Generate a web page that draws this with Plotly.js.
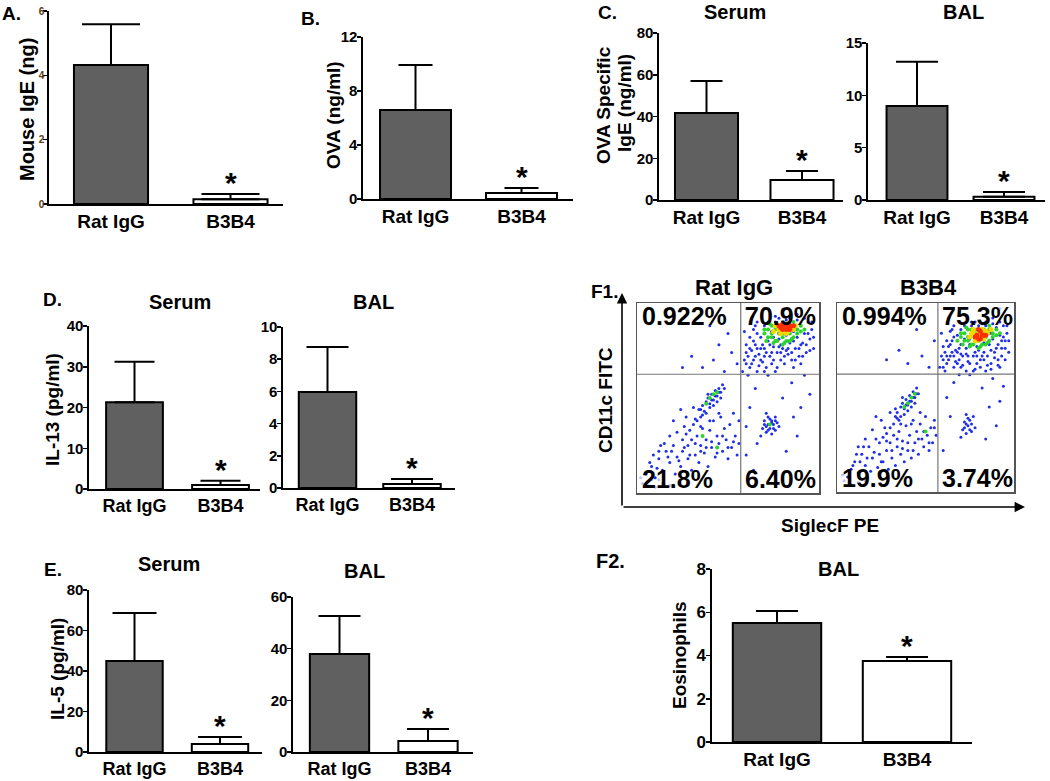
<!DOCTYPE html>
<html><head><meta charset="utf-8">
<script src="https://cdn.plot.ly/plotly-3.0.1.min.js"></script>
<style>html,body{margin:0;padding:0;background:#fff;} #chart{width:1050px;height:781px;}</style>
</head><body><div id="chart"></div>
<script>
// ---------------- DATA ----------------
const categories = ['Rat IgG', 'B3B4'];
const barColors = ['#606060', '#ffffff'];

const mouseIgE = [4.32, 0.15];      const mouseIgEErr = [1.27, 0.16];
const ovaConc = [6.59, 0.44];       const ovaConcErr = [3.34, 0.37];
const ovaIgESerum = [41.7, 9.6];    const ovaIgESerumErr = [15.3, 4.3];
const ovaIgEBAL = [8.98, 0.30];     const ovaIgEBALErr = [4.22, 0.46];
const il13Serum = [21.3, 1.0];      const il13SerumErr = [9.9, 1.0];
const il13BAL = [5.96, 0.25];       const il13BALErr = [2.80, 0.31];
const il5Serum = [44.9, 3.9];       const il5SerumErr = [23.7, 3.5];
const il5BAL = [37.9, 4.3];         const il5BALErr = [14.7, 4.6];
const eosBAL = [5.50, 3.75];        const eosBALErr = [0.56, 0.18];

const ticksA = [0, 2, 4, 6];
const ticksB = [0, 4, 8, 12];
const ticksCSerum = [0, 20, 40, 60, 80];
const ticksCBAL = [0, 5, 10, 15];
const ticksDSerum = [0, 10, 20, 30, 40];
const ticksDBAL = [0, 2, 4, 6, 8, 10];
const ticksESerum = [0, 20, 40, 60, 80];
const ticksEBAL = [0, 20, 40, 60];
const ticksF2 = [0, 2, 4, 6, 8];

// flow cytometry quadrant gates [x, y] and quadrant percentages (UL, UR, LL, LR)
const ratIgGGate = [57, 62.5];
const b3b4Gate = [57, 62.4];
const ratIgGPct = ['0.922%', '70.9%', '21.8%', '6.40%'];
const b3b4Pct = ['0.994%', '75.3%', '19.9%', '3.74%'];

// Rat IgG dot plot events (SiglecF PE, CD11c FITC), by density colour
const ratBlue = [[58,64],[60,68],[61,72],[62,66],[63,75],[64,70],[65,78],[66,64],[67,73],[68,82],[69,69],[70,76],[70,88],[71,66],[72,80],[73,72],[74,85],[74,68],[75,77],[76,90],[77,74],[78,81],[79,70],[80,86],[80,76],[81,68],[82,83],[83,73],[84,89],[84,79],[85,70],[86,85],[87,76],[88,82],[89,72],[90,88],[91,79],[92,84],[93,74],[94,90],[95,81],[62,82],[64,86],[66,90],[68,76],[72,62],[76,64],[60,78],[59,85],[86,66],[90,68],[96,86],[97,76],[78,92],[82,91],[88,91],[66,84],[70,72],[75,82],[79,78],[83,80],[87,86],
 [59,70],[61,62],[63,68],[65,72],[67,67],[69,78],[71,74],[73,78],[75,70],[77,66],[79,74],[81,72],[83,76],[85,74],[87,70],[89,76],[91,72],[93,78],[95,75],[97,82],[72,90],[76,93],[80,90],[84,92],[88,94],[92,92],[64,80],[66,76],[68,70],[70,64],[62,76],[60,74],[74,74],[78,77],[82,75],[86,80],[90,78],[94,84],[96,90],[65,88],
 [36,66],[42,70],[48,64],[52,74],[45,78],[55,68],[30,72],[50,84],[25,66],[40,88],
 [36,46],[38,48],[39,50],[40,47],[41,52],[42,49],[43,54],[44,51],[45,55],[46,53],[47,57],[48,55],[37,43],[35,40],[34,44],[33,38],[31,36],[29,33],[27,31],[25,28],
 [39,52],[41,49],[43,51],[45,53],[40,45],[42,46],[44,48],[46,50],[38,42],[36,41],[35,44],[32,39],
 [5,10],[8,14],[10,8],[12,18],[14,12],[16,22],[18,16],[20,25],[21,10],[22,19],[24,14],[25,22],[26,35],[28,18],[28,25],[30,12],[30,28],[32,20],[33,30],[34,16],[35,25],[36,34],[37,21],[38,28],[39,14],[40,33],[41,24],[42,38],[43,19],[44,30],[45,26],[46,40],[47,22],[48,34],[49,28],[50,18],[51,36],[52,24],[53,42],[54,30],[55,20],[56,38],[18,30],[15,26],[22,32],[12,22],[9,20],[27,40],[31,45],[24,44],[20,38],
 [7,16],[11,13],[13,25],[17,19],[19,22],[23,17],[26,24],[29,20],[32,26],[35,22],[38,24],[41,27],[44,21],[47,30],[50,24],[53,27],[56,26],[40,38],[35,35],[45,42],
 [69,34],[70,38],[71,32],[72,36],[72,40],[73,34],[74,38],[74,31],[75,36],[76,40],[76,33],[77,37],[71,42],[68,30],[78,35],[70,36],[71,35],[73,39],[75,34],[72,33],[74,37],[76,38],
 [60,20],[62,45],[65,55],[80,50],[85,58],[90,45],[95,52],[64,12],[82,22],[88,30],[60,35],[66,26],[92,62],[86,40]];
const ratFaint = [[3,5],[6,4],[10,3],[14,5],[18,4],[8,7],[60,97],[70,97],[80,97],[90,97],[2,8],[12,7]];
const ratGreen = [[70,84],[72,86],[74,82],[76,86],[78,84],[80,82],[82,86],[84,84],[86,88],[88,86],[75,79],[79,88],[83,88],[73,89],[85,81],[77,80],[81,79],[90,85],[71,80],
 [72,82],[74,84],[76,80],[78,86],[80,84],[82,80],[84,80],[86,82],[88,84],[90,88],[76,88],[74,88],[70,86],[86,90],[92,86],[80,78],
 [40,50],[42,52],[44,53],[38,47],[44,24],[36,30],[73,36]];
const ratYellow = [[76,88],[78,86],[80,88],[82,84],[84,87],[86,86],[79,84],[75,85],[77,88],[79,86],[81,85],[83,85],[85,87],[87,88],[83,89]];
const ratRed = [[78,88],[80,86],[82,88],[84,86],[81,87],[79,87],[82,86],[84,88],[80,89],[86,88]];

// B3B4 dot plot events
const b3Blue = [[58,66],[60,70],[61,74],[62,68],[63,77],[64,72],[65,80],[66,66],[67,75],[68,83],[69,70],[70,78],[70,86],[71,67],[72,81],[73,73],[74,86],[74,69],[75,78],[76,88],[77,72],[78,82],[79,68],[80,86],[80,75],[81,70],[82,84],[83,74],[84,88],[84,78],[85,67],[86,84],[87,75],[88,81],[89,71],[90,87],[91,78],[92,83],[93,72],[94,88],[95,80],[62,80],[64,85],[66,88],[68,74],[73,64],[78,65],[60,77],[59,84],[87,65],[91,67],[96,84],[97,74],[78,90],[82,89],[88,89],[66,82],[70,73],[75,81],[79,77],[83,79],[87,84],[93,80],[95,70],
 [59,72],[61,64],[63,70],[65,74],[67,69],[69,76],[71,72],[73,76],[75,68],[77,64],[79,72],[81,66],[83,70],[85,72],[87,68],[89,74],[91,70],[93,76],[95,76],[97,80],[72,88],[76,90],[80,88],[84,90],[88,92],[92,90],[64,78],[66,72],[68,68],[70,66],[62,72],[60,66],[74,72],[78,74],[82,72],[86,78],[90,76],[94,82],[96,88],[65,86],[69,62],[75,62],[84,64],[92,66],
 [40,68],[48,72],[52,66],[35,75],[55,80],[28,70],[45,86],
 [34,42],[36,45],[37,47],[38,44],[39,49],[40,46],[41,51],[42,48],[43,53],[44,50],[45,55],[46,52],[35,38],[33,40],[32,36],[30,34],[28,31],[26,29],[24,26],
 [37,50],[39,46],[41,48],[43,50],[45,52],[38,41],[40,43],[42,45],[44,47],[36,40],[34,39],[33,44],
 [8,12],[10,16],[12,10],[14,20],[16,14],[18,24],[19,11],[20,18],[22,28],[23,13],[24,20],[26,16],[27,34],[28,22],[29,12],[30,26],[31,18],[32,30],[33,14],[34,24],[35,32],[36,20],[37,27],[38,16],[39,35],[40,22],[41,30],[42,18],[43,38],[44,26],[45,32],[46,20],[47,36],[48,28],[49,24],[50,40],[51,30],[52,22],[53,34],[54,26],[55,38],[56,30],[16,28],[20,33],[12,24],[25,38],[30,42],[22,40],[6,8],
 [9,14],[13,16],[15,24],[17,18],[21,21],[25,16],[28,27],[31,22],[34,28],[37,23],[40,26],[43,22],[46,28],[49,32],[52,26],[55,34],[42,36],[36,36],[47,42],[11,20],
 [71,33],[72,37],[73,31],[74,35],[74,39],[75,33],[76,36],[77,40],[78,34],[73,41],[70,29],[72,34],[75,38],[73,36],[76,32],
 [62,50],[66,58],[82,55],[88,60],[92,48],[60,22],[84,28],[90,35],[64,40],[94,56],[86,45]];
const b3Faint = [[4,6],[8,4],[12,5],[16,6],[20,4],[62,97],[72,97],[82,97],[92,97],[3,9]];
const b3Green = [[70,82],[72,84],[74,80],[76,84],[78,82],[80,80],[82,84],[84,82],[86,86],[88,84],[75,77],[79,86],[83,86],[73,87],[85,79],[77,78],[81,77],[90,83],[71,78],
 [72,80],[74,82],[76,78],[78,84],[80,82],[82,78],[84,78],[86,80],[88,82],[90,86],[76,86],[74,86],[70,84],[86,88],[92,84],[80,76],[68,80],
 [40,47],[42,50],[44,52],[38,45],[50,32]];
const b3Yellow = [[76,84],[78,80],[80,84],[82,82],[84,85],[79,82],[77,86],[75,82],[77,84],[79,80],[81,83],[83,81],[85,84],[87,86],[82,86]];
const b3Red = [[79,83],[81,81],[83,83],[80,86],[78,82],[80,81],[82,83],[84,83],[81,85]];

// ---------------- LAYOUT ----------------
const W = 1050, H = 781;
const SANS = '"Liberation Sans", Arial, Helvetica, sans-serif';
const boldTick = {family: SANS, size: 15, color: '#000', weight: 'bold'};

const panels = [
  {vals: mouseIgE, errs: mouseIgEErr, ticks: ticksA, L: 49, R: 283, c1: 111, c2: 230.5, y0: 204, yt: 11, bw: 0.62, cap: 29, tf: {family: SANS, size: 10, color: '#5a3c12', weight: 'bold'}, xf: 19},
  {vals: ovaConc, errs: ovaConcErr, ticks: ticksB, L: 363, R: 573, c1: 415.5, c2: 521.5, y0: 199, yt: 37, bw: 0.67, cap: 17, tf: boldTick, xf: 19},
  {vals: ovaIgESerum, errs: ovaIgESerumErr, ticks: ticksCSerum, L: 659, R: 843, c1: 706.5, c2: 802, y0: 200, yt: 33, bw: 0.66, cap: 16, tf: boldTick, xf: 19},
  {vals: ovaIgEBAL, errs: ovaIgEBALErr, ticks: ticksCBAL, L: 868, R: 1045, c1: 917, c2: 1004, y0: 200, yt: 43, bw: 0.7, cap: 21, tf: boldTick, xf: 19},
  {vals: il13Serum, errs: il13SerumErr, ticks: ticksDSerum, L: 89, R: 260, c1: 134.5, c2: 220.5, y0: 489, yt: 326, bw: 0.66, cap: 20, tf: boldTick, xf: 18},
  {vals: il13BAL, errs: il13BALErr, ticks: ticksDBAL, L: 283, R: 455, c1: 327.5, c2: 412, y0: 488, yt: 327, bw: 0.68, cap: 21, tf: boldTick, xf: 18},
  {vals: il5Serum, errs: il5SerumErr, ticks: ticksESerum, L: 89, R: 262, c1: 134.5, c2: 220, y0: 752, yt: 590, bw: 0.66, cap: 22, tf: boldTick, xf: 18},
  {vals: il5BAL, errs: il5BALErr, ticks: ticksEBAL, L: 293, R: 473, c1: 339.5, c2: 428, y0: 752, yt: 597, bw: 0.67, cap: 21, tf: boldTick, xf: 18},
  {vals: eosBAL, errs: eosBALErr, ticks: ticksF2, L: 712, R: 972, c1: 777, c2: 907, y0: 742, yt: 569, bw: 0.68, cap: 21, tf: {family: SANS, size: 17, color: '#000', weight: 'bold'}, xf: 19}
];

const traces = [];
const layout = {
  width: W, height: H, margin: {l: 0, r: 0, t: 0, b: 0},
  paper_bgcolor: '#fff', plot_bgcolor: 'rgba(0,0,0,0)',
  showlegend: false, hovermode: false,
  annotations: [], shapes: []
};

function px(xp, yp) { return {x: xp / W, y: 1 - yp / H}; }

panels.forEach((p, i) => {
  const n = i + 1;
  const xa = 'xaxis' + (n === 1 ? '' : n), ya = 'yaxis' + (n === 1 ? '' : n);
  const xr = 'x' + (n === 1 ? '' : n), yr = 'y' + (n === 1 ? '' : n);
  const unit = p.c2 - p.c1;
  traces.push({
    type: 'bar', x: categories, y: p.vals, xaxis: xr, yaxis: yr, width: p.bw,
    marker: {color: barColors, line: {color: '#000', width: 2}},
    error_y: {type: 'data', symmetric: false, array: p.errs, arrayminus: [0, 0], color: '#000', thickness: 2, width: p.cap}
  });
  layout[xa] = {
    domain: [p.L / W, p.R / W], anchor: yr, type: 'category',
    range: [(p.L - p.c1) / unit, 1 + (p.R - p.c2) / unit],
    showline: true, linecolor: '#000', linewidth: 1.6, ticks: '', showgrid: false, zeroline: false,
    tickfont: {family: SANS, size: p.xf, color: '#000', weight: 'bold'}, fixedrange: true
  };
  layout[ya] = {
    domain: [1 - p.y0 / H, 1 - p.yt / H], anchor: xr,
    range: [0, p.ticks[p.ticks.length - 1]], tickvals: p.ticks, ticktext: p.ticks.map(String),
    showline: true, linecolor: '#000', linewidth: 1.6, ticks: 'outside', ticklen: 4, tickwidth: 1.5, tickcolor: '#000',
    ticklabelstandoff: -3,
    showgrid: false, zeroline: false, tickfont: p.tf, fixedrange: true
  };
  layout.annotations.push({
    xref: xr, yref: yr, x: 1, y: p.vals[1] + p.errs[1], text: '*', showarrow: false,
    yanchor: 'bottom', yshift: -7, font: {family: SANS, size: 30, color: '#000', weight: 'bold'}
  });
});

// Flow cytometry dot plots
const flow = [
  {n: 10, L: 637, R: 819, T: 303, B: 493, gate: ratIgGGate, pct: ratIgGPct, sets: [ratFaint, ratBlue, ratGreen, ratYellow, ratRed]},
  {n: 11, L: 837, R: 1014, T: 303, B: 492, gate: b3b4Gate, pct: b3b4Pct, sets: [b3Faint, b3Blue, b3Green, b3Yellow, b3Red]}
];
const dotStyle = [
  {color: '#b9c3ff', size: 3}, {color: '#1f2fe8', size: 3}, {color: '#2ad42a', size: 4},
  {color: '#f0d800', size: 5}, {color: '#ff3000', size: 5}
];
flow.forEach(f => {
  const xr = 'x' + f.n, yr = 'y' + f.n;
  f.sets.forEach((pts, k) => {
    traces.push({
      type: 'scatter', mode: 'markers', x: pts.map(q => q[0]), y: pts.map(q => q[1]),
      xaxis: xr, yaxis: yr, marker: {color: dotStyle[k].color, size: dotStyle[k].size, line: {width: 0}}
    });
  });
  const axBase = {showline: true, mirror: true, linecolor: '#555', linewidth: 1.5, ticks: '', showticklabels: false,
    showgrid: false, zeroline: false, range: [0, 100], fixedrange: true};
  layout['xaxis' + f.n] = Object.assign({}, axBase, {domain: [f.L / W, f.R / W], anchor: yr});
  layout['yaxis' + f.n] = Object.assign({}, axBase, {domain: [1 - f.B / H, 1 - f.T / H], anchor: xr});
  layout.shapes.push({type: 'line', xref: xr, yref: yr, x0: f.gate[0], x1: f.gate[0], y0: 0, y1: 100, line: {color: '#777', width: 1.2}});
  layout.shapes.push({type: 'line', xref: xr, yref: yr, x0: 0, x1: 100, y0: f.gate[1], y1: f.gate[1], line: {color: '#777', width: 1.2}});
  const pf = {family: SANS, size: 25, color: '#000', weight: 'bold'};
  const xl = 1.8, xrr = f.gate[0] + 1;
  layout.annotations.push({xref: xr, yref: yr, x: xl, y: 100, xanchor: 'left', yanchor: 'top', yshift: 3, text: f.pct[0], showarrow: false, font: pf});
  layout.annotations.push({xref: xr, yref: yr, x: xrr, y: 100, xanchor: 'left', yanchor: 'top', yshift: 3, text: f.pct[1], showarrow: false, font: pf});
  layout.annotations.push({xref: xr, yref: yr, x: xl, y: 0, xanchor: 'left', yanchor: 'bottom', yshift: -2, text: f.pct[2], showarrow: false, font: pf});
  layout.annotations.push({xref: xr, yref: yr, x: xrr, y: 0, xanchor: 'left', yanchor: 'bottom', yshift: -2, text: f.pct[3], showarrow: false, font: pf});
});

// Outer arrows of F1
const arrV = px(622, 293), arrH = px(1025, 507);
layout.annotations.push({xref: 'paper', yref: 'paper', x: arrV.x, y: arrV.y, ax: 0, ay: 214, text: '', showarrow: true,
  arrowhead: 2, arrowsize: 1.3, arrowwidth: 1.6, arrowcolor: '#000', standoff: 0, startstandoff: 0});
layout.annotations.push({xref: 'paper', yref: 'paper', x: arrH.x, y: arrH.y, ax: -403, ay: 0, text: '', showarrow: true,
  arrowhead: 2, arrowsize: 1.3, arrowwidth: 1.6, arrowcolor: '#000', standoff: 0, startstandoff: 0});

// Text labels (panel letters, titles, axis titles)
function label(text, xp, yp, size, angle) {
  const p = px(xp, yp);
  layout.annotations.push({xref: 'paper', yref: 'paper', x: p.x, y: p.y, xanchor: 'center', yanchor: 'middle',
    text: text, showarrow: false, textangle: angle || 0, font: {family: SANS, size: size, color: '#000', weight: 'bold'}});
}
label('A.', 11, 13, 19);
label('B.', 310, 19, 19);
label('C.', 607, 12, 19);
label('D.', 52, 299, 19);
label('E.', 53, 569, 19);
label('F1.', 604, 291, 19);
label('F2.', 610, 561, 20);

label('Serum', 735, 12, 20);
label('BAL', 963, 12, 20);
label('Serum', 180, 302, 20);
label('BAL', 373, 302, 20);
label('Serum', 169, 564, 20);
label('BAL', 364, 571, 20);
label('BAL', 838, 569, 20);
label('Rat IgG', 734, 287, 22);
label('B3B4', 928, 287, 22);

label('Mouse IgE (ng)', 27, 110, 20, -90);
label('OVA (ng/ml)', 333, 115, 19, -90);
label('OVA Specific', 603, 105, 19, -90);
label('IgE (ng/ml)', 625, 103, 19, -90);
label('IL-13 (pg/ml)', 53, 410, 19, -90);
label('IL-5 (pg/ml)', 57, 669, 19, -90);
label('Eosinophils', 679, 655, 19, -90);
label('CD11c FITC', 605, 400, 19, -90);
label('SiglecF PE', 830, 525, 19);

Plotly.newPlot('chart', traces, layout, {staticPlot: true, displayModeBar: false});
</script>
</body></html>
